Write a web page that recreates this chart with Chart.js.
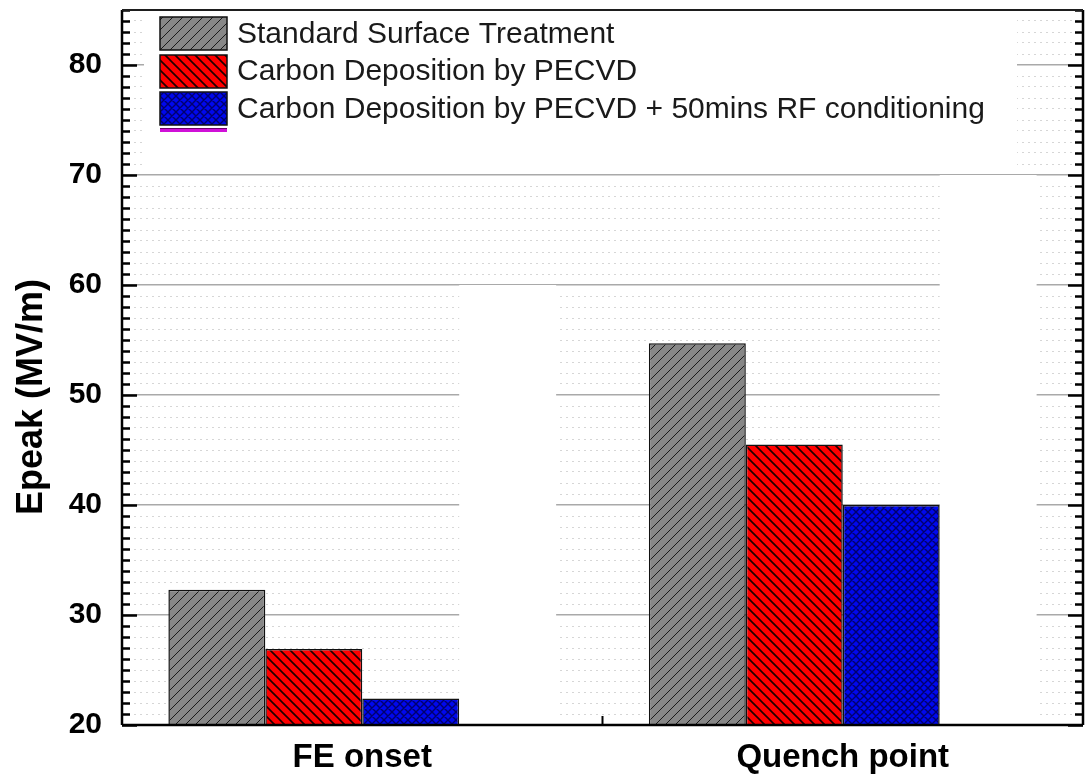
<!DOCTYPE html>
<html>
<head>
<meta charset="utf-8">
<script src="https://cdn.jsdelivr.net/npm/chart.js@4/dist/chart.umd.min.js"></script>
<style>
  body { margin: 0; background: #fff; }
  #wrap { width: 1085px; height: 774px; }
</style>
</head>
<body>
<div id="wrap"><canvas id="myChart" width="1085" height="774"></canvas></div>
<script>
// categories and series
const categories = ['FE onset', 'Quench point'];
const seriesNames = [
    'Standard Surface Treatment',
    'Carbon Deposition by PECVD',
    'Carbon Deposition by PECVD + 50mins RF conditioning'
];
const standardTreatment = [32.3, 54.7];
const pecvdDeposition = [26.9, 45.5];
const pecvdRfConditioning = [22.4, 40.0];
// white blocks that hide a fourth series in the picture
const maskedSeries = [60, 70];
const yTickLabels = [20, 30, 40, 50, 60, 70, 80];

const FONT = "'Liberation Sans', Arial, Helvetica, sans-serif";

function hatch(bg, line, dir, period, lw) {
    const c = document.createElement('canvas');
    c.width = period;
    c.height = period;
    const g = c.getContext('2d');
    g.fillStyle = bg;
    g.fillRect(0, 0, period, period);
    g.strokeStyle = line;
    g.lineWidth = lw;
    g.beginPath();
    if (dir == '/' || dir == 'x') {
        g.moveTo(-1, period + 1); g.lineTo(period + 1, -1);
        g.moveTo(-1, 1); g.lineTo(1, -1);
        g.moveTo(period - 1, period + 1); g.lineTo(period + 1, period - 1);
    }
    if (dir == '\\' || dir == 'x') {
        g.moveTo(-1, -1); g.lineTo(period + 1, period + 1);
        g.moveTo(period - 1, -1); g.lineTo(period + 1, 1);
        g.moveTo(-1, period - 1); g.lineTo(1, period + 1);
    }
    g.stroke();
    return g.createPattern(c, 'repeat');
}

const ctx0 = document.getElementById('myChart').getContext('2d');
const grayFill = hatch('#878787', '#1a1a1a', '/', 10, 1);
const redFill = hatch('#ff0000', '#200000', '\\', 10, 1.6);
const blueFill = hatch('#0008ee', '#00006e', 'x', 8, 1.4);

// legend box, frame and inward ticks (Origin style)
const framePlugin = {
    id: 'framePlugin',
    afterDatasetsDraw(chart) {
        const c = chart.ctx;
        const a = chart.chartArea;
        const y = chart.scales.y;
        // white legend box
        c.save();
        c.fillStyle = '#ffffff';
        c.fillRect(a.left + 22, a.top, (a.right - 66) - (a.left + 22), y.getPixelForValue(70) - 1 - a.top);
        const fills = [grayFill, redFill, blueFill];
        for (let i = 0; i < seriesNames.length; i++) {
            const sy = Math.round(a.top + 7 + i * 37.5);
            c.fillStyle = fills[i];
            c.fillRect(a.left + 38, sy, 67, 33);
            c.lineWidth = 1.5;
            c.strokeStyle = '#111';
            c.strokeRect(a.left + 38, sy, 67, 33);
            c.fillStyle = '#1a1a1a';
            c.font = '30px ' + FONT;
            c.textBaseline = 'alphabetic';
            c.textAlign = 'left';
            c.fillText(seriesNames[i], a.left + 115, Math.round(a.top + 33 + i * 37.3));
        }
        // cut-off fourth legend swatch
        c.fillStyle = '#d010d8';
        c.fillRect(a.left + 38, a.top + 118, 67, 4);
        c.fillStyle = '#6a006a';
        c.fillRect(a.left + 38, a.top + 118, 67, 1);
        c.restore();
    },
    afterDraw(chart) {
        const c = chart.ctx;
        const a = chart.chartArea;
        const y = chart.scales.y;
        const x = chart.scales.x;
        c.save();
        c.strokeStyle = '#000';
        c.lineWidth = 2.5;
        for (const t of y.ticks) {
            const py = Math.round(y.getPixelForValue(t.value)) + 0.5;
            const len = t.value % 10 === 0 ? 15 : 8;
            c.beginPath();
            c.moveTo(a.left, py); c.lineTo(a.left + len, py);
            c.moveTo(a.right, py); c.lineTo(a.right - len, py);
            c.stroke();
        }
        // tick between the two groups
        const mx = x.getPixelForValue(0.5);
        c.lineWidth = 2;
        c.beginPath();
        c.moveTo(mx, a.bottom); c.lineTo(mx, a.bottom - 9);
        c.stroke();
        // frame
        c.lineWidth = 2.5;
        c.strokeStyle = '#000';
        c.beginPath();
        c.moveTo(a.left, a.bottom); c.lineTo(a.right, a.bottom);
        c.moveTo(a.left, a.top); c.lineTo(a.left, a.bottom);
        c.moveTo(a.right, a.top); c.lineTo(a.right, a.bottom);
        c.stroke();
        c.lineWidth = 2;
        c.strokeStyle = '#1e1e1e';
        c.beginPath();
        c.moveTo(a.left, a.top); c.lineTo(a.right, a.top);
        c.stroke();
        // y axis title
        c.translate(42, 397);
        c.rotate(-Math.PI / 2);
        c.fillStyle = '#000';
        c.font = 'bold 36px ' + FONT;
        c.textAlign = 'center';
        c.textBaseline = 'alphabetic';
        c.fillText('Epeak (MV/m)', 0, 0);
        c.restore();
    }
};

const barStyle = { borderColor: '#111', borderWidth: 1.5, borderSkipped: 'bottom' };

var myChart = new Chart(ctx0, {
    type: 'bar',
    data: {
        labels: categories,
        datasets: [
            Object.assign({ label: seriesNames[0], data: standardTreatment, backgroundColor: grayFill }, barStyle),
            Object.assign({ label: seriesNames[1], data: pecvdDeposition, backgroundColor: redFill }, barStyle),
            Object.assign({ label: seriesNames[2], data: pecvdRfConditioning, backgroundColor: blueFill }, barStyle),
            { label: 'masked', data: maskedSeries, backgroundColor: '#ffffff', borderWidth: 0 }
        ]
    },
    options: {
        responsive: false,
        animation: false,
        devicePixelRatio: 1,
        layout: { autoPadding: false, padding: { top: 10, right: 2, left: 0, bottom: 0 } },
        datasets: { bar: { categoryPercentage: 0.807, barPercentage: 1.0 } },
        plugins: {
            legend: { display: false },
            tooltip: { enabled: false }
        },
        scales: {
            x: {
                type: 'category',
                offset: true,
                grid: { display: false, drawTicks: false },
                border: { display: false },
                ticks: {
                    color: '#000',
                    padding: 13,
                    font: { family: FONT, size: 33, weight: 'bold' }
                },
                afterFit: function (scale) {
                    scale.height = 49;
                    scale.paddingLeft = 0;
                    scale.paddingRight = 0;
                }
            },
            y: {
                min: 20,
                max: 85,
                grid: {
                    drawTicks: false,
                    color: c => (c.tick && c.tick.value % 10 === 0) ? '#a9a9a9' : '#d6d6d6',
                    lineWidth: c => (c.tick && c.tick.value % 10 === 0) ? 1.5 : 1
                },
                border: {
                    display: false,
                    dash: c => (c.tick && c.tick.value % 10 !== 0) ? [2, 4] : []
                },
                ticks: {
                    stepSize: 1,
                    autoSkip: false,
                    color: '#000',
                    padding: 20,
                    font: { family: FONT, size: 30, weight: 'bold' },
                    callback: v => yTickLabels.includes(v) ? String(v) : ''
                },
                afterFit: function (scale) {
                    scale.width = 122;
                    scale.paddingTop = 0;
                    scale.paddingBottom = 0;
                }
            }
        }
    },
    plugins: [framePlugin]
});
</script>
</body>
</html>
